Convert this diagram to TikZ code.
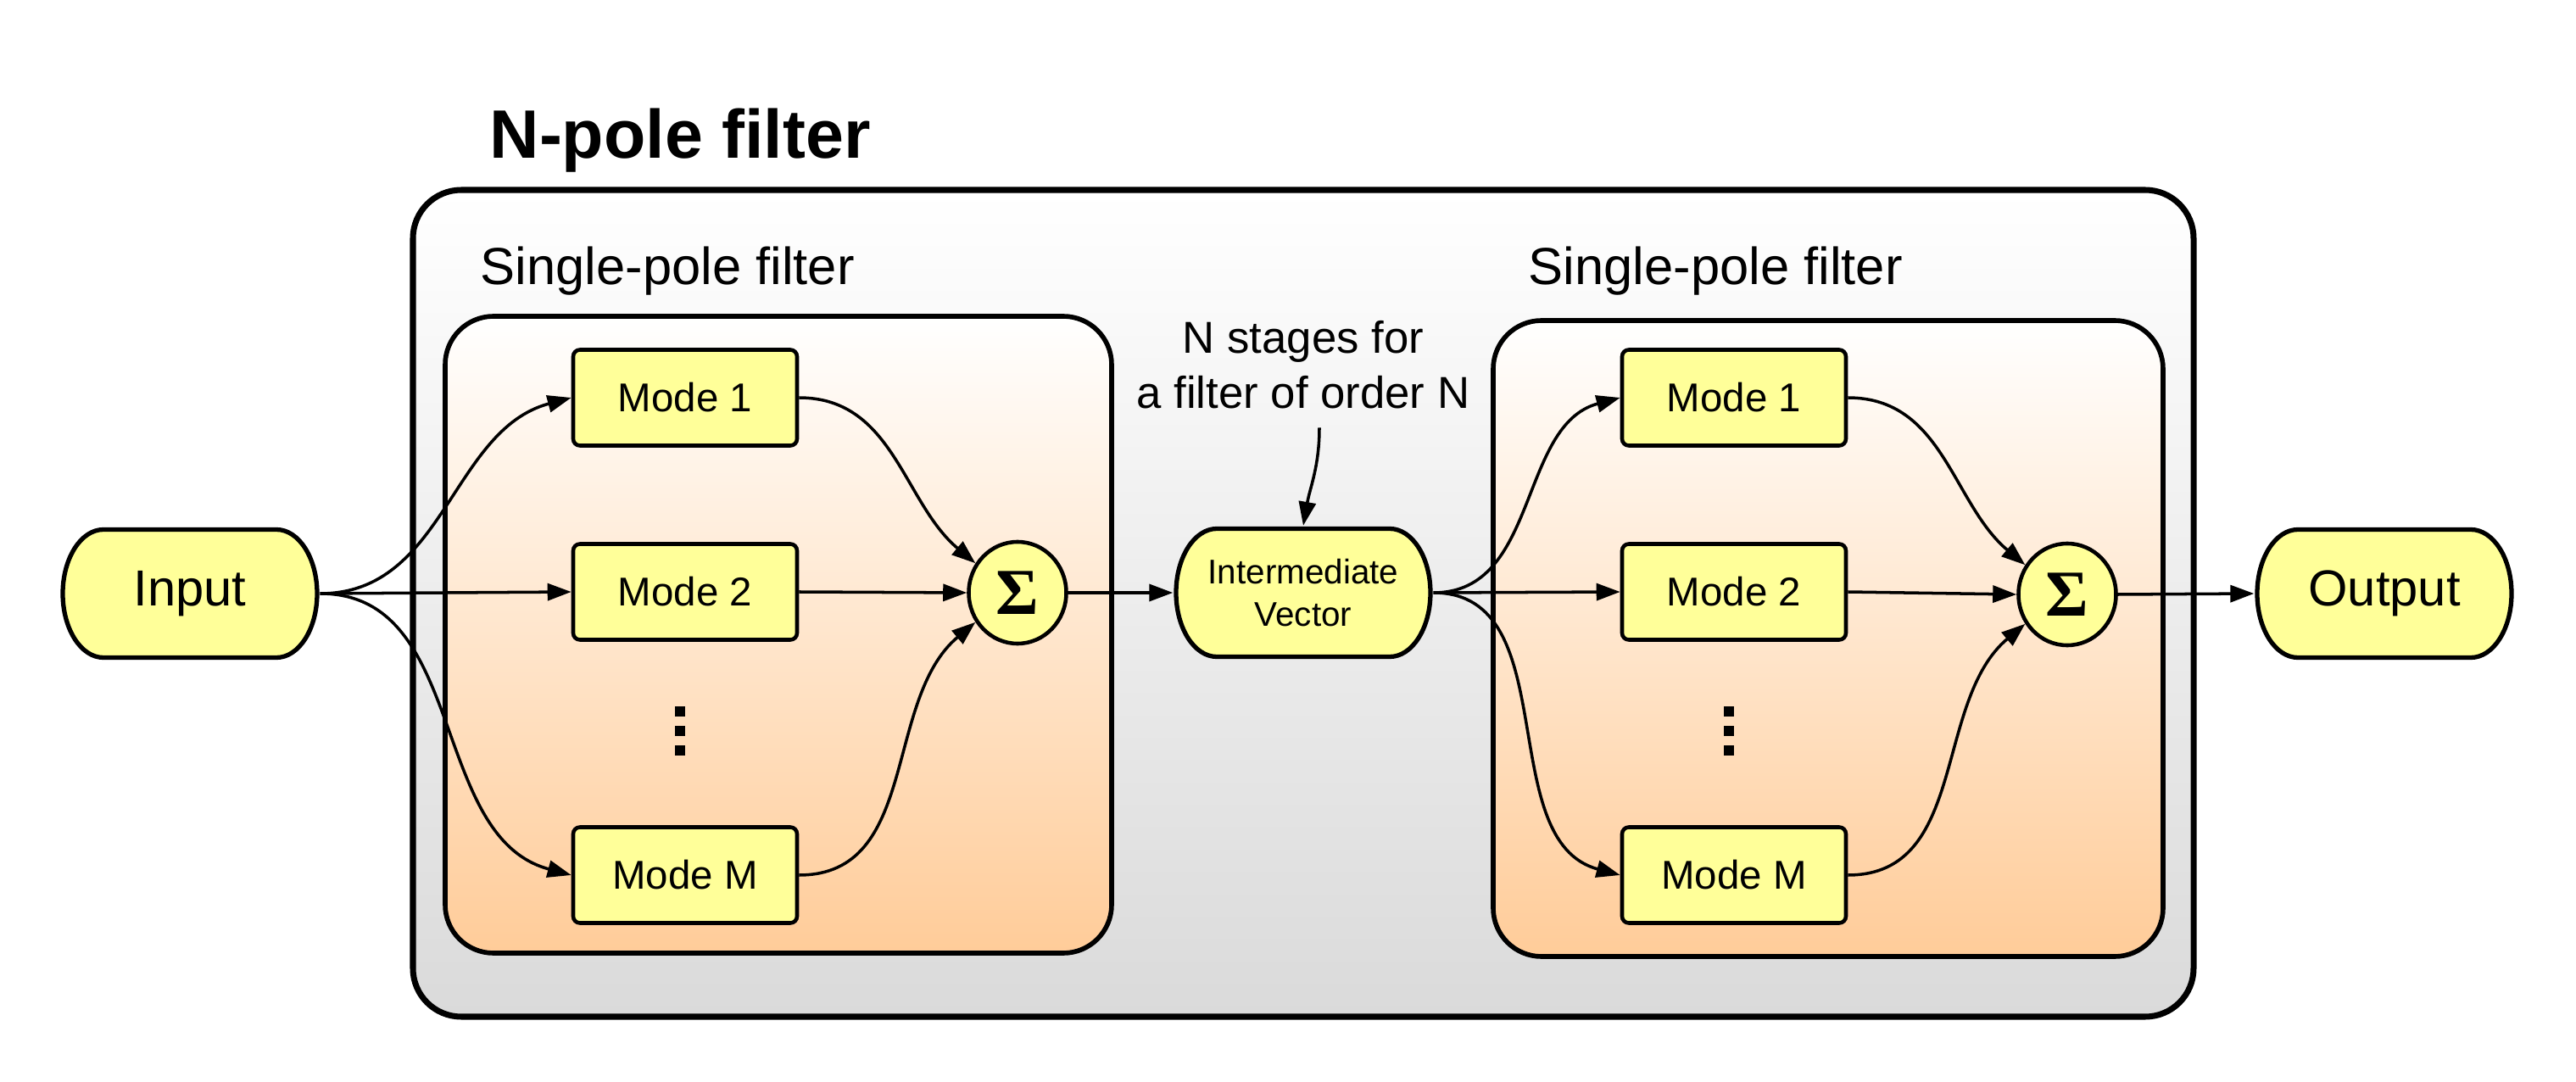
\documentclass[tikz,border=0pt]{standalone}
\usepackage{amsmath}
\usepackage{fontspec}
\setmainfont{Liberation Sans}
\newfontfamily\sigmafont{Liberation Serif}
\usepackage{xcolor}
\usetikzlibrary{arrows.meta, shapes.geometric}
\definecolor{modeyellow}{HTML}{FFFF99}
\definecolor{outergray}{HTML}{DADADA}
\definecolor{peach}{HTML}{FFCC99}

\begin{document}
\begin{tikzpicture}[
    >={Triangle[length=2.8mm,width=2mm]},
    wire/.style={->, line width=1pt},
    modebox/.style={draw, line width=1.3pt, fill=modeyellow, rounded corners=0.08cm,
        minimum width=2.64cm, minimum height=1.13cm, font=\fontsize{13.5}{16}\selectfont},
    terminal/.style={minimum width=3.06cm, minimum height=1.57cm, inner sep=0pt,
        path picture={
          \draw[line width=1.5pt, fill=modeyellow]
            ([xshift=0.51cm,yshift=-0.03cm]path picture bounding box.north west)
            -- ([xshift=-0.51cm,yshift=-0.03cm]path picture bounding box.north east)
            arc[start angle=90, end angle=-90, x radius=0.48cm, y radius=0.755cm]
            -- ([xshift=0.51cm,yshift=0.03cm]path picture bounding box.south west)
            arc[start angle=270, end angle=90, x radius=0.48cm, y radius=0.755cm]
            -- cycle;
        }},
    summer/.style={draw, line width=1.3pt, fill=modeyellow, ellipse, inner sep=0pt,
        minimum width=1.15cm, minimum height=1.2cm, font=\sigmafont\bfseries\fontsize{22}{24}\selectfont},
    outerbox/.style={line width=2pt, rounded corners=0.57cm, top color=white, bottom color=outergray},
    stagebox/.style={line width=1.6pt, rounded corners=0.57cm, top color=white, bottom color=peach},
    boxlabel/.style={anchor=base west, inner sep=0pt, font=\fontsize{17.5}{20}\selectfont}
]
    \useasboundingbox (0,0) rectangle (30.38,12.75);

    % containers
    \draw[outerbox] (4.87,0.76) rectangle (25.87,10.51);
    \draw[stagebox] (5.25,1.51) rectangle (13.11,9.02);
    \draw[stagebox] (17.61,1.47) rectangle (25.51,8.97);
    \node[anchor=base west, inner sep=0pt, font=\bfseries\fontsize{23}{26}\selectfont] (title) at (5.77,10.88) {N-pole filter};
    \node[boxlabel] (labL) at (5.66,9.39) {Single-pole filter};
    \node[boxlabel] (labR) at (18.02,9.39) {Single-pole filter};

    % main row
    \node[terminal, font=\fontsize{17}{20}\selectfont] (inp) at (2.24,5.75) {Input};
    \node[terminal, align=center, font=\fontsize{11.5}{14.2}\selectfont] (inter) at (15.37,5.76) {Intermediate\\Vector};
    \node[terminal, font=\fontsize{17}{20}\selectfont] (outp) at (28.12,5.75) {Output};
    \node[summer] (sumL) at (12.00,5.76) {Σ};
    \node[summer] (sumR) at (24.38,5.74) {Σ};

    % modes of each stage
    \foreach \side/\x in {L/8.08, R/20.45}
        {
          \node[modebox] (m1\side) at (\x,8.06) {Mode 1};
          \node[modebox] (m2\side) at (\x,5.77) {Mode 2};
          \node[modebox] (mM\side) at (\x,2.43) {Mode M};
          \foreach \y in {4.36,4.13,3.90}
              \fill ({\x-0.12},{\y-0.06}) rectangle ++(0.12,0.12);
        };

    \foreach \src/\side in {inp/L, inter/R}
        {
          \draw[wire] (\src.east) to[out=0,in=195] (m1\side.west);
          \draw[wire] (\src.east) -- (m2\side.west);
          \draw[wire] (\src.east) to[out=0,in=165] (mM\side.west);
          \draw[wire] (m1\side.east) to[out=0,in=140] (sum\side.145);
          \draw[wire] (m2\side.east) -- (sum\side.west);
          \draw[wire] (mM\side.east) to[out=0,in=220] (sum\side.215);
        };
    \draw[wire] (sumL.east) -- (inter.west);
    \draw[wire] (sumR.east) -- (outp.west);

    \node[align=center, inner sep=0pt, anchor=north, font=\fontsize{15}{18.3}\selectfont] (note) at (15.37,8.97) {N stages for\\a filter of order N};
    \draw[wire] ([xshift=0.19cm,yshift=-0.22cm]note.south) to[out=-90,in=80] (inter.north);
\end{tikzpicture}
\end{document}
